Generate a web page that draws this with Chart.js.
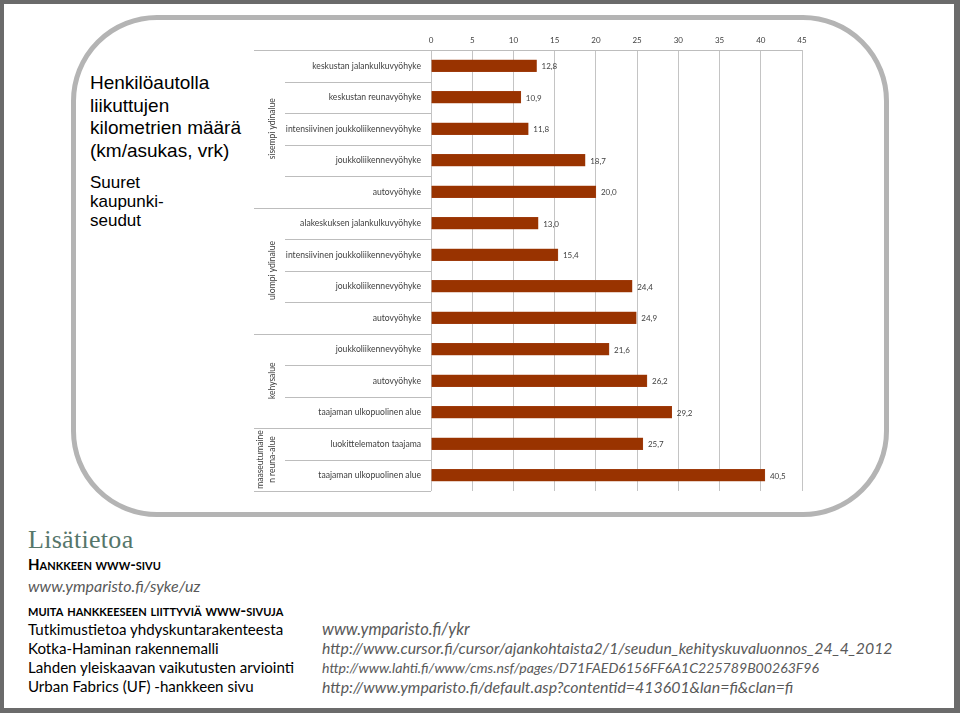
<!DOCTYPE html>
<html>
<head>
<meta charset="utf-8">
<script src="https://cdn.jsdelivr.net/npm/chart.js@4/dist/chart.umd.min.js"></script>
<style>
body{margin:0;background:#fff;}
#slide{position:relative;width:960px;height:713px;box-sizing:border-box;border:4px solid #6b6b6b;border-right-width:6px;border-bottom-width:5px;overflow:hidden;background:#fff;}
#frame{position:absolute;left:67px;top:11px;width:808px;height:492px;border:5px solid #b4b4b4;border-radius:86px;}
#wrap{position:absolute;left:236px;top:14px;width:620px;height:488px;}
.t{position:absolute;white-space:nowrap;}
#title{left:86px;top:68px;font-family:"Liberation Sans",Arial,sans-serif;font-size:19px;line-height:22.5px;color:#000;}
#sub{left:86px;top:169px;font-family:"Liberation Sans",Arial,sans-serif;font-size:17px;line-height:19px;color:#000;}
#lisa{left:24px;top:521px;font-family:"Liberation Serif","DejaVu Serif",serif;font-size:26px;color:#55766a;letter-spacing:0.3px;}
.sc{font-family:Lato,sans-serif;font-weight:bold;font-variant:small-caps;color:#000;}
.it{font-family:Lato,sans-serif;font-style:italic;color:#595959;}
.rw{font-family:Lato,sans-serif;color:#000;font-size:15.1px;}
</style>
</head>
<body>
<div id="slide">
  <div id="frame"></div>
  <div class="t" id="title">Henkilöautolla<br>liikuttujen<br>kilometrien määrä<br>(km/asukas, vrk)</div>
  <div class="t" id="sub">Suuret<br>kaupunki-<br>seudut</div>
  <div id="wrap"><canvas id="grafico"></canvas></div>
  <div class="t" id="lisa">Lisätietoa</div>
  <div class="t sc" style="left:24px;top:551px;font-size:15px;">Hankkeen www-sivu</div>
  <div class="t it" style="left:24px;top:572px;font-size:16px;">www.ymparisto.fi/syke/uz</div>
  <div class="t sc" style="left:24px;top:596px;font-size:16px;">muita hankkeeseen liittyviä www-sivuja</div>
  <div class="t rw" style="left:24px;top:616px;">Tutkimustietoa yhdyskuntarakenteesta</div>
  <div class="t rw" style="left:24px;top:635px;">Kotka-Haminan rakennemalli</div>
  <div class="t rw" style="left:24px;top:654px;">Lahden yleiskaavan vaikutusten arviointi</div>
  <div class="t rw" style="left:24px;top:673px;">Urban Fabrics (UF) -hankkeen sivu</div>
  <div class="t it" style="left:318px;top:615px;font-size:16.5px;">www.ymparisto.fi/ykr</div>
  <div class="t it" style="left:318px;top:634px;font-size:15.8px;">http://www.cursor.fi/cursor/ajankohtaista2/1/seudun_kehityskuvaluonnos_24_4_2012</div>
  <div class="t it" style="left:318px;top:655px;font-size:14.1px;">http://www.lahti.fi/www/cms.nsf/pages/D71FAED6156FF6A1C225789B00263F96</div>
  <div class="t it" style="left:318px;top:673px;font-size:15.9px;">http://www.ymparisto.fi/default.asp?contentid=413601&amp;lan=fi&amp;clan=fi</div>
</div>
<script>
var kategoriat=[
    "keskustan jalankulkuvyöhyke",
    "keskustan reunavyöhyke",
    "intensiivinen joukkoliikennevyöhyke",
    "joukkoliikennevyöhyke",
    "autovyöhyke",
    "alakeskuksen jalankulkuvyöhyke",
    "intensiivinen joukkoliikennevyöhyke",
    "joukkoliikennevyöhyke",
    "autovyöhyke",
    "joukkoliikennevyöhyke",
    "autovyöhyke",
    "taajaman ulkopuolinen alue",
    "luokittelematon taajama",
    "taajaman ulkopuolinen alue"
];
var km=[12.8,10.9,11.8,18.7,20.0,13.0,15.4,24.4,24.9,21.6,26.2,29.2,25.7,40.5];
var ryhmat=[["sisempi ydinalue"],["ulompi ydinalue"],["kehysalue"],["maaseutumaine","n reuna-alue"]];
var ryhmaKoot=[5,4,3,2];
var xMin=0, xMax=45, xStep=5;

var fontti="Lato, 'Open Sans', sans-serif";

// viivat ja ryhmien nimet kategoria-akselin puolelle
var ryhmaPlugin={
    id:"ryhmat",
    afterDraw(chart){
        var ctx=chart.ctx;
        var y=chart.scales.y;
        var area=chart.chartArea;
        var n=kategoriat.length;
        var half=(y.getPixelForValue(1)-y.getPixelForValue(0))/2;
        var raja=function(i){ return i<n ? y.getPixelForValue(i)-half : y.getPixelForValue(n-1)+half; };
        var rajat=[0];
        var s=0;
        for (var k of ryhmaKoot){ s+=k; rajat.push(s); }
        ctx.save();
        ctx.strokeStyle="#bdbdbd";
        ctx.lineWidth=1;
        for (var i=0;i<=n;i++){
            var py=Math.round(raja(i))+0.5;
            var x0=rajat.indexOf(i)>=0 ? 14 : 45;
            var x1=i==0 ? area.right : area.left;
            ctx.beginPath();
            ctx.moveTo(x0,py);
            ctx.lineTo(x1,py);
            ctx.stroke();
        }
        ctx.fillStyle="#404040";
        ctx.font="8.5px "+fontti;
        ctx.textAlign="center";
        ctx.textBaseline="middle";
        for (var g=0;g<ryhmat.length;g++){
            var cy=(raja(rajat[g])+raja(rajat[g+1]))/2;
            var rivit=ryhmat[g];
            for (var r=0;r<rivit.length;r++){
                var cx= rivit.length==1 ? 32 : 20+r*12.5;
                ctx.save();
                ctx.translate(cx,cy);
                ctx.rotate(-Math.PI/2);
                ctx.fillText(rivit[r],0,0);
                ctx.restore();
            }
        }
        ctx.restore();
    },
    afterDatasetsDraw(chart){
        var ctx=chart.ctx;
        var meta=chart.getDatasetMeta(0);
        ctx.save();
        ctx.fillStyle="#404040";
        ctx.font="8px "+fontti;
        ctx.textAlign="left";
        ctx.textBaseline="middle";
        meta.data.forEach(function(bar,i){
            ctx.fillText(km[i].toFixed(1).replace(".",","),bar.x+5,bar.y+1);
        });
        ctx.restore();
    }
};

var dados={
    labels:kategoriat,
    datasets:[{
        label:"km/asukas, vrk",
        data:km,
        backgroundColor:"#993300",
        borderColor:"#a3441a",
        borderWidth:0.5,
        barThickness:12
    }]
};

var config={
    type:"bar",
    data:dados,
    options:{
        indexAxis:"y",
        responsive:false,
        animation:false,
        layout:{padding:{right:58,bottom:15}},
        plugins:{legend:{display:false},tooltip:{enabled:false}},
        scales:{
            x:{
                position:"top",
                min:xMin,
                max:xMax,
                ticks:{stepSize:xStep,color:"#404040",font:{family:fontti,size:8},padding:5},
                grid:{color:"#c4c4c4",drawTicks:false},
                border:{display:false},
                afterFit(scale){ scale.height=32; }
            },
            y:{
                ticks:{color:"#404040",font:{family:fontti,size:8.6},padding:2,autoSkip:false},
                grid:{display:false},
                border:{display:false},
                afterFit(scale){ scale.width=191; }
            }
        }
    },
    plugins:[ryhmaPlugin]
};

var g=document.getElementById("grafico");
g.width=620;
g.height=488;
var g1=new Chart(g.getContext("2d"),config);
</script>
</body>
</html>
